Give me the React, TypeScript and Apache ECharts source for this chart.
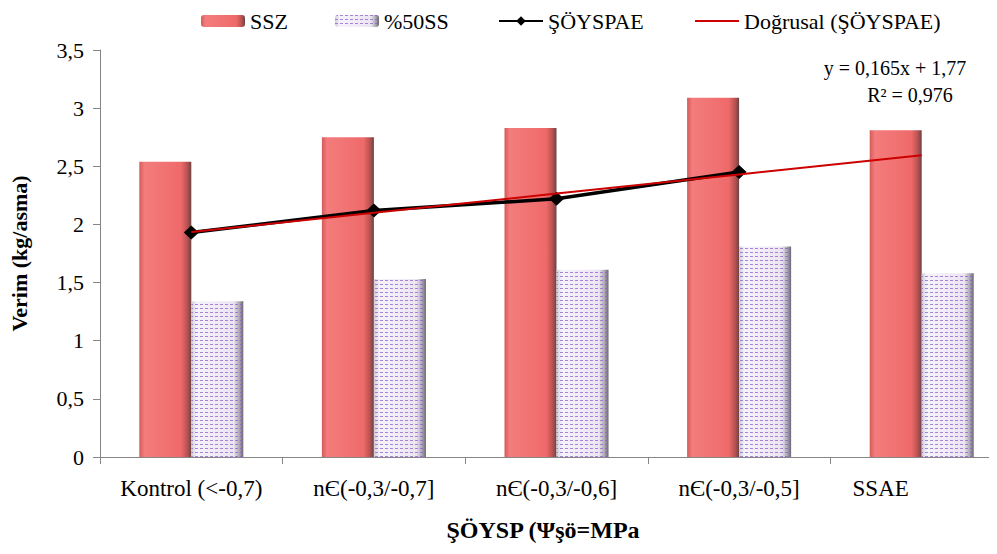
import React, { useEffect, useRef } from "react";
import * as echarts from "echarts";

const categories = [
  "Kontrol (<-0,7)",
  "nЄ(-0,3/-0,7]",
  "nЄ(-0,3/-0,6]",
  "nЄ(-0,3/-0,5]",
  "SSAE",
];
const ssz = [2.54, 2.75, 2.83, 3.09, 2.81];
const ss50 = [1.34, 1.53, 1.61, 1.81, 1.58];
const soyspae = [1.93, 2.12, 2.22, 2.45, null];
const trend = [1.935, 2.1, 2.265, 2.43, 2.595];
const yTicks = { min: 0, max: 3.5, interval: 0.5 };
const equationLines = ["y = 0,165x + 1,77", "R² = 0,976"];

const FONT = "Liberation Serif";

export default function App() {
  const ref = useRef<HTMLDivElement>(null);
  useEffect(() => {
    if (!ref.current) return;
    const chart = echarts.init(ref.current, null, { renderer: "svg" });
    const sszColor = new echarts.graphic.LinearGradient(0, 0, 1, 0, [
      { offset: 0, color: "#d65a5a" },
      { offset: 0.1, color: "#f47c7c" },
      { offset: 0.8, color: "#ef6a6a" },
      { offset: 0.92, color: "#bb5252" },
      { offset: 1, color: "#6a4444" },
    ]);
    const ss50Color = new echarts.graphic.LinearGradient(0, 0, 1, 0, [
      { offset: 0, color: "#cfcbd6" },
      { offset: 0.1, color: "#f7f3fb" },
      { offset: 0.82, color: "#ebe5f2" },
      { offset: 0.93, color: "#a8a4ae" },
      { offset: 1, color: "#66666c" },
    ]);
    const ss50Decal = {
      symbol: "rect",
      symbolSize: 1,
      dashArrayX: [3, 2],
      dashArrayY: [1, 3],
      color: "rgba(140,95,205,0.75)",
      rotation: 0,
    };
    const legendBase = {
      top: 5,
      itemWidth: 44,
      itemHeight: 12,
      textStyle: { fontFamily: FONT, fontSize: 22, color: "#000" },
      selectedMode: false,
    };
    chart.setOption({
      animation: false,
      backgroundColor: "#fff",
      textStyle: { fontFamily: FONT },
      legend: [
        { ...legendBase, left: 196, data: ["SSZ"] },
        { ...legendBase, left: 330, data: ["%50SS"] },
        { ...legendBase, left: 493, data: ["ŞÖYSPAE"] },
        {
          ...legendBase,
          left: 690,
          itemHeight: 2,
          data: [{ name: "Doğrusal (ŞÖYSPAE)", icon: "rect" }],
        },
      ],
      grid: { left: 98, top: 50, width: 915, height: 407 },
      xAxis: {
        type: "category",
        data: categories.map((c, i) =>
          i === categories.length - 1
            ? { value: c, textStyle: { padding: [0, 82, 0, 0] } }
            : c
        ),
        boundaryGap: true,
        axisLine: { lineStyle: { color: "#868686", width: 1 } },
        axisTick: { show: true, length: 7, lineStyle: { color: "#868686" } },
        axisLabel: {
          fontFamily: FONT,
          fontSize: 23,
          color: "#000",
          margin: 20,
          interval: 0,
        },
      },
      yAxis: {
        type: "value",
        min: yTicks.min,
        max: yTicks.max,
        interval: yTicks.interval,
        name: "Verim (kg/asma)",
        nameLocation: "middle",
        nameGap: 70,
        nameTextStyle: {
          fontFamily: FONT,
          fontSize: 22,
          fontWeight: "bold",
          color: "#000",
        },
        axisLine: { show: true, lineStyle: { color: "#868686", width: 1 } },
        axisTick: { show: true, length: 7, lineStyle: { color: "#868686" } },
        splitLine: { show: false },
        axisLabel: {
          fontFamily: FONT,
          fontSize: 22,
          color: "#000",
          margin: 16,
          formatter: (v: number) => String(v).replace(".", ","),
        },
      },
      graphic: [
        {
          type: "text",
          x: 543,
          y: 530,
          style: {
            text: "ŞÖYSP (Ψşö=MPa",
            font: `bold 24px ${FONT}`,
            fill: "#000",
            textAlign: "center",
            textVerticalAlign: "middle",
          },
        },
        {
          type: "text",
          x: 895,
          y: 68,
          style: {
            text: equationLines[0],
            font: `20px ${FONT}`,
            fill: "#000",
            textAlign: "center",
            textVerticalAlign: "middle",
          },
        },
        {
          type: "text",
          x: 910,
          y: 95,
          style: {
            text: equationLines[1],
            font: `20px ${FONT}`,
            fill: "#000",
            textAlign: "center",
            textVerticalAlign: "middle",
          },
        },
      ],
      series: [
        {
          name: "SSZ",
          type: "bar",
          data: ssz,
          barWidth: 52,
          barGap: "0%",
          itemStyle: { color: sszColor },
        },
        {
          name: "%50SS",
          type: "bar",
          data: ss50,
          barWidth: 52,
          barGap: "0%",
          itemStyle: { color: ss50Color, decal: ss50Decal },
        },
        {
          name: "ŞÖYSPAE",
          type: "line",
          data: soyspae,
          z: 3,
          symbol: "diamond",
          symbolSize: [15, 14],
          lineStyle: { color: "#000", width: 3.5 },
          itemStyle: { color: "#000" },
        },
        {
          name: "Doğrusal (ŞÖYSPAE)",
          type: "line",
          data: trend,
          z: 4,
          symbol: "none",
          lineStyle: { color: "#cc0000", width: 2 },
          itemStyle: { color: "#cc0000" },
        },
      ],
    });
    return () => chart.dispose();
  }, []);
  return (
    <div style={{ width: 997, height: 554, margin: -8, overflow: "hidden" }}>
      <div ref={ref} style={{ width: 1030, height: 554 }} />
    </div>
  );
}
